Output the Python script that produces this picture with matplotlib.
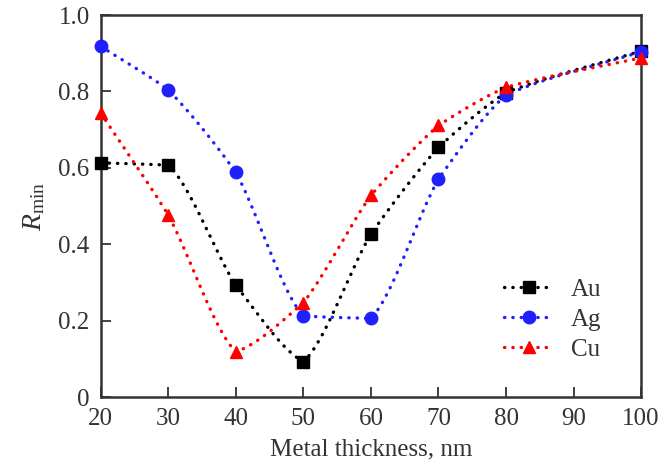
import numpy as np
import matplotlib.pyplot as plt

thickness = [20, 30, 40, 50, 60, 70, 80, 100]
r_au = [0.613, 0.607, 0.292, 0.092, 0.427, 0.654, 0.797, 0.906]
r_ag = [0.918, 0.804, 0.588, 0.212, 0.206, 0.571, 0.791, 0.904]
r_cu = [0.743, 0.476, 0.118, 0.247, 0.528, 0.711, 0.811, 0.888]

plt.rcParams["font.family"] = ["Liberation Serif", "DejaVu Serif"]
plt.rcParams["mathtext.fontset"] = "custom"
plt.rcParams["mathtext.rm"] = "Liberation Serif"
plt.rcParams["mathtext.it"] = "Liberation Serif:italic"

TEXT_COLOR = "#333333"
DOTS = (0, (0.1, 2.4))


def smooth_line(x, y, n=30, blend=0.5):
    """
    Shape-preserving (PCHIP style) curve through the points, mixed with the
    straight polyline so the line is only mildly rounded.
    """
    x = np.asarray(x, dtype=float)
    y = np.asarray(y, dtype=float)
    h = np.diff(x)
    d = np.diff(y) / h
    m = np.zeros_like(y)
    for k in range(1, len(x) - 1):
        if d[k - 1] * d[k] > 0:
            w1 = 2 * h[k] + h[k - 1]
            w2 = h[k] + 2 * h[k - 1]
            m[k] = (w1 + w2) / (w1 / d[k - 1] + w2 / d[k])
    m[0] = d[0]
    m[-1] = d[-1]
    t = np.linspace(0, 1, n)
    h00 = 2 * t ** 3 - 3 * t ** 2 + 1
    h10 = t ** 3 - 2 * t ** 2 + t
    h01 = -2 * t ** 3 + 3 * t ** 2
    h11 = t ** 3 - t ** 2
    xs, ys = [], []
    for k in range(len(x) - 1):
        xs.append(x[k] + t * h[k])
        curve = (h00 * y[k] + h10 * h[k] * m[k]
                 + h01 * y[k + 1] + h11 * h[k] * m[k + 1])
        line = y[k] + t * (y[k + 1] - y[k])
        ys.append(blend * curve + (1 - blend) * line)
    return np.concatenate(xs), np.concatenate(ys)


fig = plt.figure(figsize=(6.72, 4.63), dpi=100)
ax = fig.add_axes([0.150, 0.1425, 0.804, 0.825])

series = [
    ("Au", r_au, "black", "s", 8),
    ("Ag", r_ag, "#2020ff", "o", 9),
    ("Cu", r_cu, "red", "^", 9),
]

for name, values, color, marker, size in series:
    sx, sy = smooth_line(thickness, values)
    ax.plot(sx, sy, color=color, linestyle=DOTS,
            linewidth=2.4, dash_capstyle="round")
    ax.plot(thickness, values, color=color, linestyle="none",
            marker=marker, markersize=size, clip_on=False, zorder=5)
    ax.plot([], [], color=color, linestyle=DOTS, linewidth=2.4,
            dash_capstyle="round", marker=marker, markersize=size, label=name)

ax.set_xlim(20, 100)
ax.set_ylim(0, 1.0)
ax.set_xticks([20, 30, 40, 50, 60, 70, 80, 90, 100])
ax.set_yticks([0, 0.2, 0.4, 0.6, 0.8, 1.0])
ax.set_yticklabels(["0", "0.2", "0.4", "0.6", "0.8", "1.0"])

ax.tick_params(direction="in", length=7, width=1.3, labelsize=18, pad=8,
               top=False, right=False, colors=TEXT_COLOR, labelcolor=TEXT_COLOR)
for spine in ax.spines.values():
    spine.set_linewidth(1.8)
    spine.set_color(TEXT_COLOR)

ax.set_xlabel("Metal thickness, nm", fontsize=18, color=TEXT_COLOR, labelpad=6)
ax.set_ylabel(r"$R_{\mathrm{min}}$", fontsize=20, color=TEXT_COLOR, labelpad=8)

ax.legend(loc="lower right", bbox_to_anchor=(0.926, 0.095), frameon=False,
          borderaxespad=0, borderpad=0,
          fontsize=18, handlelength=2.0, labelspacing=0.3, handletextpad=0.65,
          labelcolor=TEXT_COLOR)

fig.savefig("out.png", dpi=100)
